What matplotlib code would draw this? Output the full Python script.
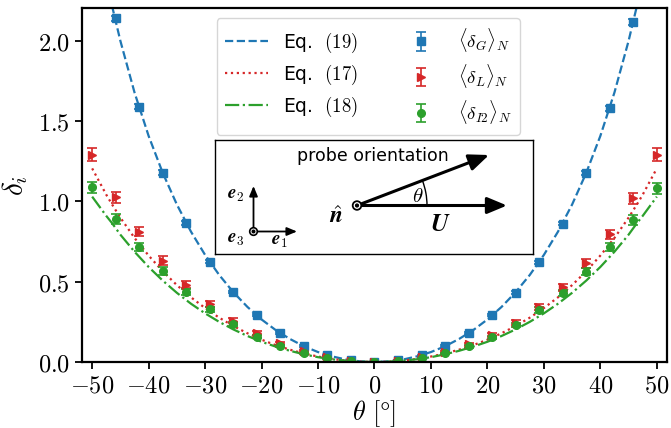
import matplotlib
matplotlib.use("Agg")
import matplotlib.pyplot as plt
import matplotlib.ticker as ticker
from matplotlib.patches import Arc, Circle
import numpy as np

plt.rcParams['mathtext.fontset'] = 'cm'
plt.rcParams['font.family'] = 'DejaVu Sans'

# measured points (angle in degrees)
theta = [-50, -45.83, -41.67, -37.5, -33.33, -29.17, -25, -20.83, -16.67, -12.5, -8.33, -4.17, 0,
         4.17, 8.33, 12.5, 16.67, 20.83, 25, 29.17, 33.33, 37.5, 41.67, 45.83, 50]

delta_G = [2.84, 2.14, 1.59, 1.18, 0.865, 0.625, 0.437, 0.292, 0.18, 0.099, 0.043, 0.012, 0.0,
           0.012, 0.043, 0.099, 0.18, 0.292, 0.432, 0.621, 0.862, 1.176, 1.58, 2.12, 2.84]
err_G = [0.02, 0.018, 0.015, 0.013, 0.011, 0.009, 0.008, 0.006, 0.005, 0.004, 0.003, 0.002, 0.001,
         0.002, 0.003, 0.004, 0.005, 0.006, 0.008, 0.009, 0.011, 0.013, 0.015, 0.018, 0.02]

delta_L = [1.29, 1.026, 0.812, 0.631, 0.48, 0.36, 0.257, 0.179, 0.116, 0.068, 0.033, 0.008, 0.0,
           0.008, 0.03, 0.065, 0.11, 0.17, 0.245, 0.345, 0.465, 0.615, 0.795, 1.02, 1.29]
err_L = [0.04, 0.035, 0.03, 0.027, 0.022, 0.018, 0.015, 0.012, 0.009, 0.006, 0.004, 0.002, 0.001,
         0.002, 0.004, 0.006, 0.009, 0.012, 0.015, 0.018, 0.022, 0.027, 0.03, 0.035, 0.04]

delta_I2 = [1.088, 0.891, 0.718, 0.567, 0.438, 0.328, 0.235, 0.158, 0.10, 0.054, 0.023, 0.006, 0.0,
            0.006, 0.022, 0.053, 0.098, 0.155, 0.23, 0.324, 0.432, 0.563, 0.715, 0.885, 1.082]
err_I2 = [0.035, 0.03, 0.025, 0.022, 0.019, 0.016, 0.013, 0.01, 0.008, 0.005, 0.003, 0.002, 0.001,
          0.002, 0.003, 0.005, 0.008, 0.01, 0.013, 0.016, 0.019, 0.022, 0.025, 0.03, 0.035]

# model curves
theta_c = [-50, -47.5, -46.5, -45, -42.5, -40, -37.5, -35, -32.5, -30, -27.5, -25, -22.5, -20, -17.5,
           -15, -12.5, -10, -7.5, -5, -2.5, 0, 2.5, 5, 7.5, 10, 12.5, 15, 17.5, 20, 22.5, 25,
           27.5, 30, 32.5, 35, 37.5, 40, 42.5, 45, 46.5, 47.5, 50]

eq19 = [np.nan, np.nan, 2.221, 2.0, 1.679, 1.408, 1.178, 0.981, 0.812, 0.667, 0.542, 0.435, 0.343,
        0.265, 0.199, 0.144, 0.098, 0.062, 0.035, 0.015, 0.004, 0.0, 0.004, 0.015, 0.035, 0.062,
        0.098, 0.144, 0.199, 0.265, 0.343, 0.435, 0.542, 0.667, 0.812, 0.981, 1.178, 1.408, 1.679,
        2.0, 2.221, np.nan, np.nan]

eq17 = [1.206, 1.042, 0.983, 0.899, 0.773, 0.663, 0.565, 0.479, 0.403, 0.336, 0.276, 0.224, 0.179,
        0.139, 0.105, 0.077, 0.053, 0.034, 0.019, 0.008, 0.002, 0.0, 0.002, 0.008, 0.019, 0.034,
        0.053, 0.077, 0.105, 0.139, 0.179, 0.224, 0.276, 0.336, 0.403, 0.479, 0.565, 0.663, 0.773,
        0.899, 0.983, 1.042, 1.206]

eq18 = [1.03, 0.91, 0.866, 0.793, 0.687, 0.592, 0.507, 0.431, 0.363, 0.303, 0.250, 0.203, 0.162,
        0.126, 0.096, 0.070, 0.048, 0.030, 0.017, 0.008, 0.002, 0.0, 0.002, 0.008, 0.017, 0.030,
        0.048, 0.070, 0.096, 0.126, 0.162, 0.203, 0.250, 0.303, 0.363, 0.431, 0.507, 0.592, 0.687,
        0.793, 0.866, 0.91, 1.03]

blue, red, green = '#1f77b4', '#d62728', '#2ca02c'

fig = plt.figure(figsize=(6.71, 4.28), dpi=100)
ax = fig.add_axes([0.1222, 0.1542, 0.8718, 0.8271])

l19, = ax.plot(theta_c, eq19, color=blue, ls='--', lw=1.6, label='Eq.  $(19)$')
l17, = ax.plot(theta_c, eq17, color=red, ls=':', lw=1.6, label='Eq.  $(17)$')
l18, = ax.plot(theta_c, eq18, color=green, ls='-.', lw=1.6, label='Eq.  $(18)$')

eG = ax.errorbar(theta, delta_G, yerr=err_G, fmt='s', color=blue, ms=5.5, capsize=3.5,
                 elinewidth=1.2, capthick=1.2, label=r'$\langle\delta_G\rangle_N$')
eL = ax.errorbar(theta, delta_L, yerr=err_L, fmt='>', color=red, ms=5.5, capsize=3.5,
                 elinewidth=1.2, capthick=1.2, label=r'$\langle\delta_L\rangle_N$')
eI = ax.errorbar(theta, delta_I2, yerr=err_I2, fmt='o', color=green, ms=5.5, capsize=3.5,
                 elinewidth=1.2, capthick=1.2, label=r'$\langle\delta_{I2}\rangle_N$')

ax.set_xlim(-51.8, 51.8)
ax.set_ylim(0, 2.205)
ax.set_xticks(np.arange(-50, 51, 10))
ax.set_yticks([0, 0.5, 1.0, 1.5, 2.0])
ax.xaxis.set_major_formatter(ticker.FuncFormatter(lambda v, p: '$%d$' % v))
ax.yaxis.set_major_formatter(ticker.FuncFormatter(lambda v, p: '$%.1f$' % v))
ax.tick_params(labelsize=17.5, width=1.3, length=5)
for s in ax.spines.values():
    s.set_linewidth(1.6)
ax.set_xlabel(r'$\theta\ [\degree]$', fontsize=19, labelpad=0)
ax.set_ylabel(r'$\delta_i$', fontsize=21, labelpad=6)

ax.legend(handles=[l19, l17, l18, eG, eL, eI], ncol=2, fontsize=13.5, loc='upper left',
          bbox_to_anchor=(216.7 / 671, 1 - 18 / 428), bbox_transform=fig.transFigure,
          borderaxespad=0, handlelength=2.3, columnspacing=2.2, labelspacing=0.42,
          borderpad=0.45)

# inset sketch, drawn in pixel coordinates
ins = fig.add_axes([215 / 671, 1 - 254 / 428, 318 / 671, 114 / 428])
ins.set_xlim(215, 533)
ins.set_ylim(254, 140)
ins.set_xticks([])
ins.set_yticks([])
for s in ins.spines.values():
    s.set_linewidth(1.0)

ins.text(373, 156, 'probe orientation', fontsize=12.5, ha='center', va='center')
arrow = dict(arrowstyle='-|>,head_length=1.2,head_width=0.5', color='k', lw=2.2, shrinkA=0, shrinkB=0)
ins.annotate('', xy=(489, 155), xytext=(357, 205.5), arrowprops=arrow)
ins.annotate('', xy=(507, 205.5), xytext=(357, 205.5), arrowprops=arrow)
ins.add_patch(Circle((357, 205.5), 4.3, fc='white', ec='k', lw=1.3, zorder=5))
ins.add_patch(Circle((357, 205.5), 1.4, fc='k', ec='k', zorder=6))
ins.add_patch(Arc((357, 205.5), 140, 140, theta1=-21, theta2=0, color='k', lw=1.0))
ins.text(418, 196, r'$\theta$', fontsize=15, ha='center', va='center')
ins.text(336, 216, r'$\hat{\boldsymbol{n}}$', fontsize=17, ha='center', va='center')
ins.text(440, 224, r'$\boldsymbol{U}$', fontsize=18, ha='center', va='center')

small = dict(arrowstyle='-|>,head_length=0.6,head_width=0.25', color='k', lw=1.3, shrinkA=0, shrinkB=0)
ins.annotate('', xy=(253.5, 186), xytext=(253.5, 231.5), arrowprops=small)
ins.annotate('', xy=(297, 231.5), xytext=(253.5, 231.5), arrowprops=small)
ins.add_patch(Circle((253.5, 231.5), 3.8, fc='white', ec='k', lw=1.2, zorder=5))
ins.add_patch(Circle((253.5, 231.5), 1.3, fc='k', ec='k', zorder=6))
ins.text(236, 194, r'$\boldsymbol{e}_2$', fontsize=13.5, ha='center', va='center')
ins.text(236, 239, r'$\boldsymbol{e}_3$', fontsize=13.5, ha='center', va='center')
ins.text(279, 240, r'$\boldsymbol{e}_1$', fontsize=13.5, ha='center', va='center')

fig.savefig('out.png', dpi=100)
